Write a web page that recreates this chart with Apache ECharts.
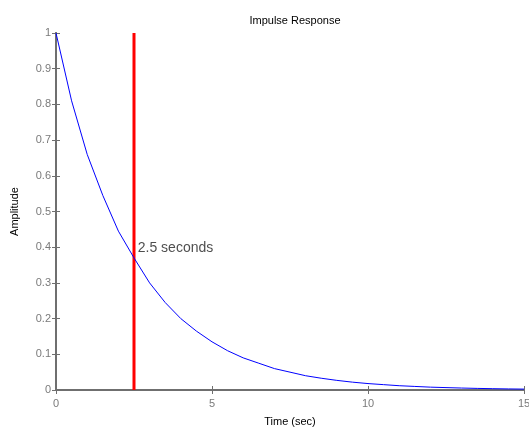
<!DOCTYPE html>
<html lang="en">
<head>
    <meta charset="UTF-8">
    <title>Impulse Response</title>
    <script src="https://cdn.jsdelivr.net/npm/echarts@6/dist/echarts.min.js"></script>
    <style>
        html, body { margin: 0; padding: 0; background: #fff; }
        #chart { width: 529px; height: 427px; }
    </style>
</head>
<body>
    <div id="chart"></div>
    <script>
        // time samples (sec) and amplitude
        var time = [0, 0.5, 1, 1.5, 2, 2.5, 3, 3.5, 4, 4.5, 5, 5.5, 6, 6.5, 7, 7.5,
            8, 8.5, 9, 9.5, 10, 10.5, 11, 11.5, 12, 12.5, 13, 13.5, 14, 14.5, 15];
        var amplitude = [1, 0.81, 0.66, 0.545, 0.445, 0.37, 0.30, 0.245, 0.20, 0.165,
            0.135, 0.11, 0.09, 0.075, 0.06, 0.05, 0.04, 0.033, 0.027, 0.022,
            0.018, 0.015, 0.012, 0.01, 0.008, 0.0067, 0.0055, 0.0045, 0.0037, 0.003, 0.0025];
        var markerTime = 2.5;
        var noteText = '2.5 seconds';
        var notePos = [2.62, 0.398];
        var xTicks = [0, 5, 10, 15];

        var curve = [];
        for (var i = 0; i < time.length; i++) {
            curve.push([time[i], amplitude[i]]);
        }

        var axisGray = '#6f6f6f';
        var labelGray = '#7a7a7a';
        var font = 'Liberation Sans, Arial, sans-serif';

        var myChart = echarts.init(document.getElementById('chart'));
        var option = {
            animation: false,
            title: {
                text: 'Impulse Response',
                left: 290,
                textAlign: 'center',
                top: 10,
                textStyle: { fontSize: 11, fontWeight: 'normal', color: '#000', fontFamily: font }
            },
            grid: { left: 56, right: 5, top: 33, bottom: 37, outerBoundsMode: 'none' },
            xAxis: [{
                type: 'value',
                min: 0, max: 15, interval: 5,
                name: 'Time (sec)',
                nameLocation: 'middle',
                nameGap: 26,
                nameTextStyle: { fontSize: 11, color: '#000', fontFamily: font },
                axisLine: { lineStyle: { color: axisGray, width: 2 } },
                axisTick: { inside: true, length: 4, lineStyle: { color: axisGray } },
                axisLabel: { color: labelGray, fontSize: 11, margin: 8, fontFamily: font },
                splitLine: { show: false }
            }, {
                type: 'value',
                position: 'top',
                min: 0, max: 15, interval: 5,
                axisLine: { show: true, lineStyle: { color: axisGray, width: 2 } },
                axisTick: { inside: true, length: 4, lineStyle: { color: axisGray } },
                axisLabel: { show: false },
                splitLine: { show: false }
            }],
            yAxis: [{
                type: 'value',
                min: 0, max: 1, interval: 0.1,
                name: 'Amplitude',
                nameLocation: 'middle',
                nameGap: 36,
                nameTextStyle: { fontSize: 11, color: '#000', fontFamily: font },
                axisLine: { show: true, lineStyle: { color: axisGray, width: 2 } },
                axisTick: { show: true, inside: true, length: 4, lineStyle: { color: axisGray } },
                axisLabel: { color: labelGray, fontSize: 11, margin: 5, fontFamily: font },
                splitLine: { show: false }
            }, {
                type: 'value',
                position: 'right',
                min: 0, max: 1, interval: 0.1,
                axisLine: { show: true, lineStyle: { color: axisGray, width: 2 } },
                axisTick: { show: true, inside: true, length: 4, lineStyle: { color: axisGray } },
                axisLabel: { show: false },
                splitLine: { show: false }
            }],
            series: [{
                name: 'impulse',
                type: 'line',
                data: curve,
                showSymbol: false,
                lineStyle: { color: '#0000ff', width: 1 },
                z: 3
            }, {
                name: 'marker',
                type: 'line',
                data: [[markerTime, 0], [markerTime, 1]],
                showSymbol: false,
                lineStyle: { color: '#ff0000', width: 3 },
                z: 2
            }, {
                name: 'note',
                type: 'scatter',
                data: [notePos],
                symbolSize: 0,
                label: {
                    show: true,
                    position: 'right',
                    distance: 0,
                    formatter: noteText,
                    fontSize: 14,
                    color: '#222',
                    fontFamily: font
                },
                z: 4
            }]
        };
        myChart.setOption(option);
    </script>
</body>
</html>
